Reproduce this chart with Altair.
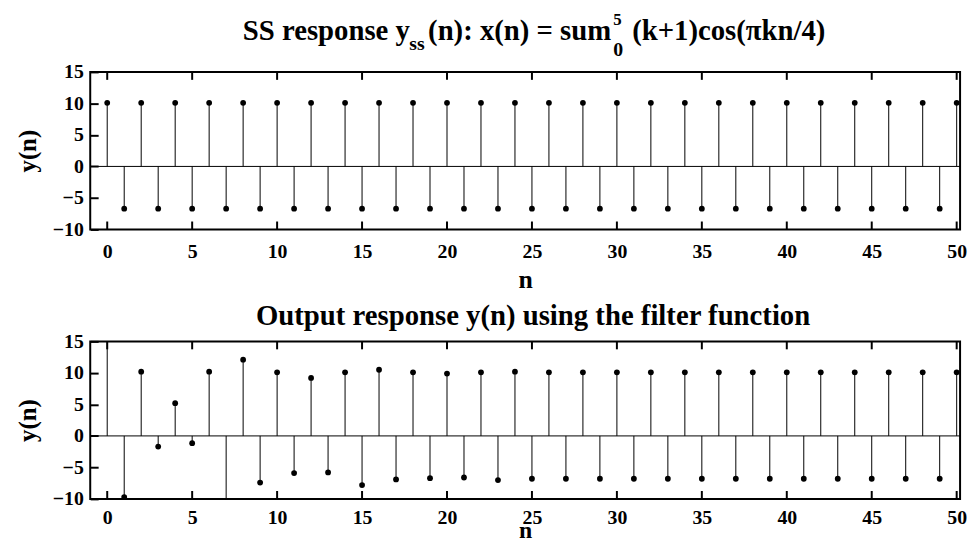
import altair as alt
import pandas as pd

# ---- data ----
n_vals = list(range(51))

y_ss = [10.1, -6.7, 10.1, -6.7, 10.1, -6.7, 10.1, -6.7, 10.1, -6.7,
        10.1, -6.7, 10.1, -6.7, 10.1, -6.7, 10.1, -6.7, 10.1, -6.7,
        10.1, -6.7, 10.1, -6.7, 10.1, -6.7, 10.1, -6.7, 10.1, -6.7,
        10.1, -6.7, 10.1, -6.7, 10.1, -6.7, 10.1, -6.7, 10.1, -6.7,
        10.1, -6.7, 10.1, -6.7, 10.1, -6.7, 10.1, -6.7, 10.1, -6.7,
        10.1]

y_filt = [20.0, -9.7, 10.2, -1.7, 5.2, -1.15, 10.2, -12.0, 12.1, -7.4,
          10.1, -5.9, 9.2, -5.8, 10.1, -7.8, 10.5, -6.9, 10.1, -6.7,
          9.9, -6.6, 10.1, -7.0, 10.2, -6.8, 10.1, -6.8, 10.1, -6.8,
          10.1, -6.8, 10.1, -6.8, 10.1, -6.8, 10.1, -6.8, 10.1, -6.8,
          10.1, -6.8, 10.1, -6.8, 10.1, -6.8, 10.1, -6.8, 10.1, -6.8,
          10.1]

x_ticks = [0, 5, 10, 15, 20, 25, 30, 35, 40, 45, 50]
y_ticks = [-10, -5, 0, 5, 10, 15]
x_domain = [-1, 50.2]
y_domain = [-10, 15]

W, H = 878, 159
FONT = "Liberation Serif"
TICK = 8

one = pd.DataFrame({"a": [0]})
zero = pd.DataFrame({"y": [0]})
xt = pd.DataFrame({"n": x_ticks})


def panel(values, texts, label_pad, x_title_pad, x_title_size):
    df = pd.DataFrame({"n": n_vals, "y": values})
    xs = alt.Scale(domain=x_domain, nice=False, zero=False)
    ys = alt.Scale(domain=y_domain, nice=False, zero=False)
    xax = alt.Axis(values=x_ticks, title="n", grid=False, domain=False, ticks=False,
                   tickSize=0, labelPadding=label_pad, labelOverlap=False,
                   labelFont=FONT, labelFontSize=20, labelFontWeight="bold",
                   labelColor="black", titleFont=FONT, titleFontSize=x_title_size,
                   titleFontWeight="bold", titleColor="black",
                   titlePadding=x_title_pad)
    # inward ticks on the left: axis shifted into the plot by the tick length
    yax = alt.Axis(values=y_ticks, title="y(n)", grid=False, domain=False, ticks=True,
                   tickSize=TICK, tickWidth=2, tickColor="black", offset=-TICK,
                   labelPadding=7, labelOverlap=False,
                   labelFont=FONT, labelFontSize=20, labelFontWeight="bold",
                   labelColor="black", titleFont=FONT, titleFontSize=25,
                   titleFontWeight="bold", titleColor="black", titlePadding=12)

    def X(f):
        return alt.X(f, scale=xs, axis=xax)

    def Y(f):
        return alt.Y(f, scale=ys, axis=yax)

    stems = alt.Chart(df).mark_rule(color="black", strokeWidth=1, clip=True).encode(
        x=X("n:Q"), y=Y("y:Q"), y2=alt.datum(0),
    )
    base0 = alt.Chart(zero).mark_rule(color="black", strokeWidth=1).encode(
        y=Y("y:Q")
    )
    dots = alt.Chart(df).mark_circle(color="black", size=34, opacity=1, clip=True).encode(
        x=X("n:Q"), y=Y("y:Q")
    )
    xtop = alt.Chart(xt).mark_rule(color="black", strokeWidth=2).encode(
        x="n:Q", y=alt.value(0), y2=alt.value(TICK)
    )
    xbot = alt.Chart(xt).mark_rule(color="black", strokeWidth=2).encode(
        x="n:Q", y=alt.value(H - TICK), y2=alt.value(H)
    )
    layers = [stems, base0, dots, xtop, xbot]
    for (txt, x, y, size, align) in texts:
        layers.append(
            alt.Chart(one).mark_text(text=txt, font=FONT, fontSize=size, fontWeight="bold",
                                     color="black", align=align, baseline="top").encode(
                x=alt.value(x), y=alt.value(y)
            )
        )
    return alt.layer(*layers).properties(width=W, height=H)


top_texts = [
    ("SS response y", 154, -55, 29, "left"),
    ("ss", 322, -38, 20, "left"),
    ("(n): x(n) = sum", 341, -55, 29, "left"),
    ("5", 528, -60, 17, "left"),
    ("0", 528, -32, 20, "left"),
    ("(k+1)cos(\u03c0kn/4)", 547, -55, 29, "left"),
]
bot_texts = [
    ("Output response y(n) using the filter function", 447, -40, 29, "center"),
]

chart = alt.vconcat(
    panel(y_ss, top_texts, 12, 6, 26), panel(y_filt, bot_texts, 9, -9, 24),
    spacing=113, bounds="flush"
).properties(
    padding={"left": 6, "top": 0, "right": 0, "bottom": 0}
).configure_view(
    stroke="black", strokeWidth=2
)

chart.save("out.html", embed_options={"renderer": "svg", "actions": False})
